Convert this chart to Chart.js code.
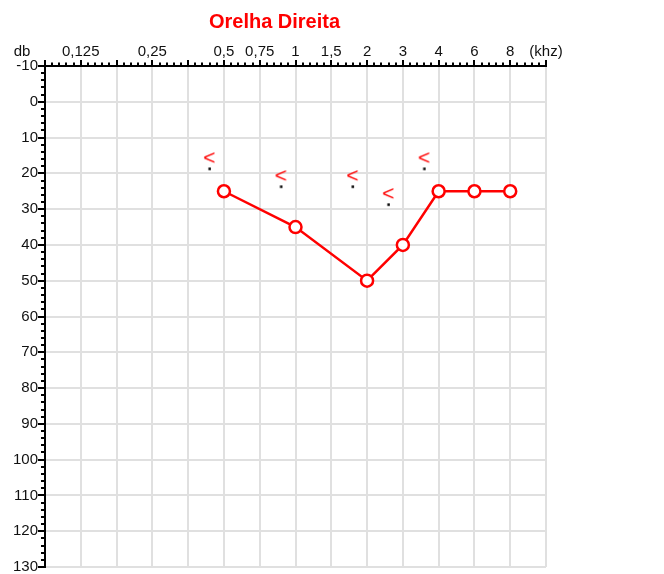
<!DOCTYPE html>
<html><head><meta charset="utf-8">
<script src="https://cdn.jsdelivr.net/npm/chart.js@4.4.1/dist/chart.umd.min.js"></script>
<style>html,body{margin:0;padding:0;background:#fff;overflow:hidden;} canvas{display:block;}</style>
</head><body>
<canvas id="c" width="664" height="578"></canvas>
<script>
const titleText = 'Orelha Direita';
const yUnitLabel = 'db';
const freqTickLabels = ['', '0,125', '', '0,25', '', '0,5', '0,75', '1', '1,5', '2', '3', '4', '6', '8', '(khz)'];
const airFreqIndex = [5, 7, 9, 10, 11, 12, 13];
const airValues = [25, 35, 50, 40, 25, 25, 25];
const boneFreqIndex = [5, 7, 9, 10, 11];
const boneValues = [20, 25, 25, 30, 20];
const dbMin = -10, dbMax = 130, dbStep = 10;

const FONT = '"Liberation Sans", Arial, Helvetica, sans-serif';
const RED = '#ff0000';

function makeBoneMarker() {
  const c = document.createElement('canvas');
  c.width = 60; c.height = 60;
  const g = c.getContext('2d');
  g.font = '21px ' + FONT;
  g.fillStyle = RED;
  const m = g.measureText('<');
  const cx = 30 - 14.3, cy = 30 - 16;
  const tx = cx - (m.actualBoundingBoxRight - m.actualBoundingBoxLeft) / 2;
  const ty = cy + (m.actualBoundingBoxAscent - m.actualBoundingBoxDescent) / 2;
  g.fillText('<', tx, ty);
  g.fillStyle = '#000';
  g.fillRect(cx - 1.25, 30 - 4.5 - 1.25, 2.5, 2.5);
  return c;
}

const axisTicks = {
  id: 'axisTicks',
  afterDraw(chart) {
    const {ctx, chartArea, scales: {x, y}} = chart;
    ctx.save();
    ctx.strokeStyle = '#000';
    ctx.lineWidth = 2;
    ctx.beginPath();
    for (let i = 0; i <= (freqTickLabels.length - 1) * 5; i++) {
      const px = Math.round(x.getPixelForValue(i / 5));
      const len = i % 5 === 0 ? 6 : 3.5;
      ctx.moveTo(px, chartArea.top);
      ctx.lineTo(px, chartArea.top - len);
    }
    for (let v = dbMin; v <= dbMax; v += 2) {
      const py = Math.round(y.getPixelForValue(v));
      const len = ((v - dbMin) % dbStep === 0) ? 7 : 4;
      ctx.moveTo(chartArea.left, py);
      ctx.lineTo(chartArea.left - len, py);
    }
    ctx.stroke();
    ctx.font = '15px ' + FONT;
    ctx.fillStyle = '#111';
    ctx.textAlign = 'center';
    ctx.textBaseline = 'alphabetic';
    ctx.fillText(yUnitLabel, 22, 56);
    ctx.restore();
  }
};

const airData = airFreqIndex.map((f, i) => ({x: f, y: airValues[i]}));
const boneData = boneFreqIndex.map((f, i) => ({x: f, y: boneValues[i]}));

new Chart(document.getElementById('c'), {
  type: 'line',
  data: {
    datasets: [
      {
        label: 'Via aérea',
        data: airData,
        borderColor: RED,
        borderWidth: 2.5,
        pointRadius: 6,
        pointBorderWidth: 2.5,
        pointBackgroundColor: '#fff',
        pointBorderColor: RED,
        fill: false,
        tension: 0
      },
      {
        label: 'Via óssea',
        data: boneData,
        showLine: false,
        pointStyle: makeBoneMarker(),
        pointRadius: 10
      }
    ]
  },
  options: {
    responsive: false,
    animation: false,
    events: [],
    layout: {padding: {left: 3, right: 118, top: 0, bottom: 7}},
    plugins: {
      legend: {display: false},
      tooltip: {enabled: false},
      title: {
        display: true,
        text: titleText,
        color: RED,
        font: {family: FONT, size: 20, weight: 'bold', lineHeight: 1.2},
        padding: {top: 10, bottom: 0}
      }
    },
    scales: {
      x: {
        type: 'linear',
        position: 'top',
        min: 0,
        max: freqTickLabels.length - 1,
        ticks: {
          stepSize: 1,
          autoSkip: false,
          maxRotation: 0,
          padding: 5,
          color: '#111',
          font: {family: FONT, size: 15, lineHeight: 1.2},
          callback: (v) => freqTickLabels[Math.round(v)] ?? ''
        },
        grid: {color: '#e0e0e0', lineWidth: 2, drawTicks: false},
        border: {color: '#000', width: 2},
        afterFit(s) { s.height = 32; s.paddingLeft = 0; s.paddingRight = 0; }
      },
      y: {
        type: 'linear',
        reverse: true,
        min: dbMin,
        max: dbMax,
        ticks: {
          stepSize: dbStep,
          padding: 7,
          color: '#111',
          font: {family: FONT, size: 15, lineHeight: 0.5},
          callback: (v) => String(v)
        },
        grid: {color: '#e0e0e0', lineWidth: 2, drawTicks: false},
        border: {color: '#000', width: 2},
        afterFit(s) { s.width = 42; s.paddingTop = 0; s.paddingBottom = 0; }
      }
    }
  },
  plugins: [axisTicks]
});
</script>
</body></html>
